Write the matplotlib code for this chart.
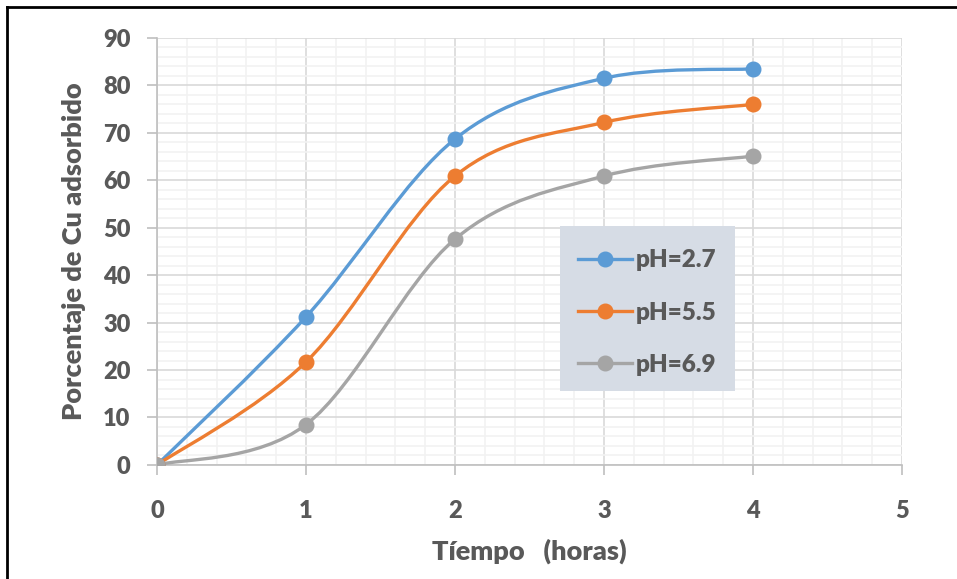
import numpy as np
import matplotlib
matplotlib.use('Agg')
import matplotlib.pyplot as plt
from matplotlib.path import Path
from matplotlib.patches import PathPatch, Rectangle
from matplotlib.lines import Line2D
from matplotlib.ticker import MultipleLocator

plt.rcParams['font.family'] = ['Lato', 'DejaVu Sans']
plt.rcParams['font.weight'] = 'heavy'

tiempo = [0, 1, 2, 3, 4]
ph_27 = [0, 31.2, 68.7, 81.5, 83.5]
ph_55 = [0, 21.7, 60.9, 72.2, 76.0]
ph_69 = [0, 8.5, 47.6, 60.9, 65.1]
labels = ['pH=2.7', 'pH=5.5', 'pH=6.9']
colors = ['#5b9bd5', '#ed7d31', '#a5a5a5']
text_color = '#595959'


def smooth_path(xs, ys):
    # Excel-like smoothed line: cubic bezier with Catmull-Rom control points
    pts = np.column_stack([xs, ys]).astype(float)
    n = len(pts)
    verts = [pts[0]]
    codes = [Path.MOVETO]
    for i in range(n - 1):
        p_prev = pts[max(i - 1, 0)]
        p0 = pts[i]
        p1 = pts[i + 1]
        p_next = pts[min(i + 2, n - 1)]
        c1 = p0 + (p1 - p_prev) / 6.0
        c2 = p1 - (p_next - p0) / 6.0
        verts += [c1, c2, p1]
        codes += [Path.CURVE4] * 3
    return Path(verts, codes)


fig = plt.figure(figsize=(9.57, 5.79), dpi=100)
ax = fig.add_axes([0.164, 0.197, 0.7785, 0.7374])

for ys, lab, col in zip([ph_27, ph_55, ph_69], labels, colors):
    ax.add_patch(PathPatch(smooth_path(tiempo, ys), fill=False, edgecolor=col,
                           lw=2.4, capstyle='round', joinstyle='round', zorder=3))
    ax.plot(tiempo, ys, ls='none', marker='o', ms=10.5, color=col, zorder=4)

ax.set_xlim(0, 5)
ax.set_ylim(0, 90)
ax.xaxis.set_major_locator(MultipleLocator(1))
ax.xaxis.set_minor_locator(MultipleLocator(0.2))
ax.yaxis.set_major_locator(MultipleLocator(10))
ax.yaxis.set_minor_locator(MultipleLocator(2))
ax.grid(which='major', color='#d9d9d9', lw=1.2, zorder=0)
ax.grid(which='minor', color='#f2f2f2', lw=1.2, zorder=0)
ax.set_axisbelow(True)

for s in ['top', 'right']:
    ax.spines[s].set_visible(False)
for s in ['left', 'bottom']:
    ax.spines[s].set_color('#bfbfbf')
    ax.spines[s].set_linewidth(1.2)
ax.tick_params(which='major', direction='out', length=7, width=1.2, color='#bfbfbf',
               labelsize=17, labelcolor=text_color)
ax.tick_params(axis='y', pad=12)
ax.tick_params(axis='x', pad=18)
ax.tick_params(which='minor', length=0)

ax.set_xlabel('Tíempo   (horas)', fontsize=19.5, color=text_color, fontweight='heavy', labelpad=12)
ax.set_ylabel('Porcentaje de Cu adsorbido', fontsize=19.5, color=text_color, fontweight='heavy', labelpad=12)

# legend background box
ax.add_patch(Rectangle((0.541, 0.173), 0.235, 0.387, transform=ax.transAxes,
                       facecolor='#d6dce5', edgecolor='none', zorder=5))
handles = [Line2D([], [], color=c, lw=2.4, marker='o', ms=10.5) for c in colors]
leg = ax.legend(handles, labels, loc='center', bbox_to_anchor=(0.658, 0.357),
                frameon=False, fontsize=17.5, handlelength=2.2, labelspacing=1.24,
                borderpad=0, handletextpad=0.15, borderaxespad=0)
leg.set_zorder(6)
for t in leg.get_texts():
    t.set_color(text_color)

# outer border of the chart frame (left and top edges)
fig.add_artist(Line2D([0.007, 0.007], [0, 0.988], transform=fig.transFigure, color='black', lw=2))
fig.add_artist(Line2D([0.007, 1.0], [0.988, 0.988], transform=fig.transFigure, color='black', lw=2))

fig.savefig('out.png', dpi=100)
